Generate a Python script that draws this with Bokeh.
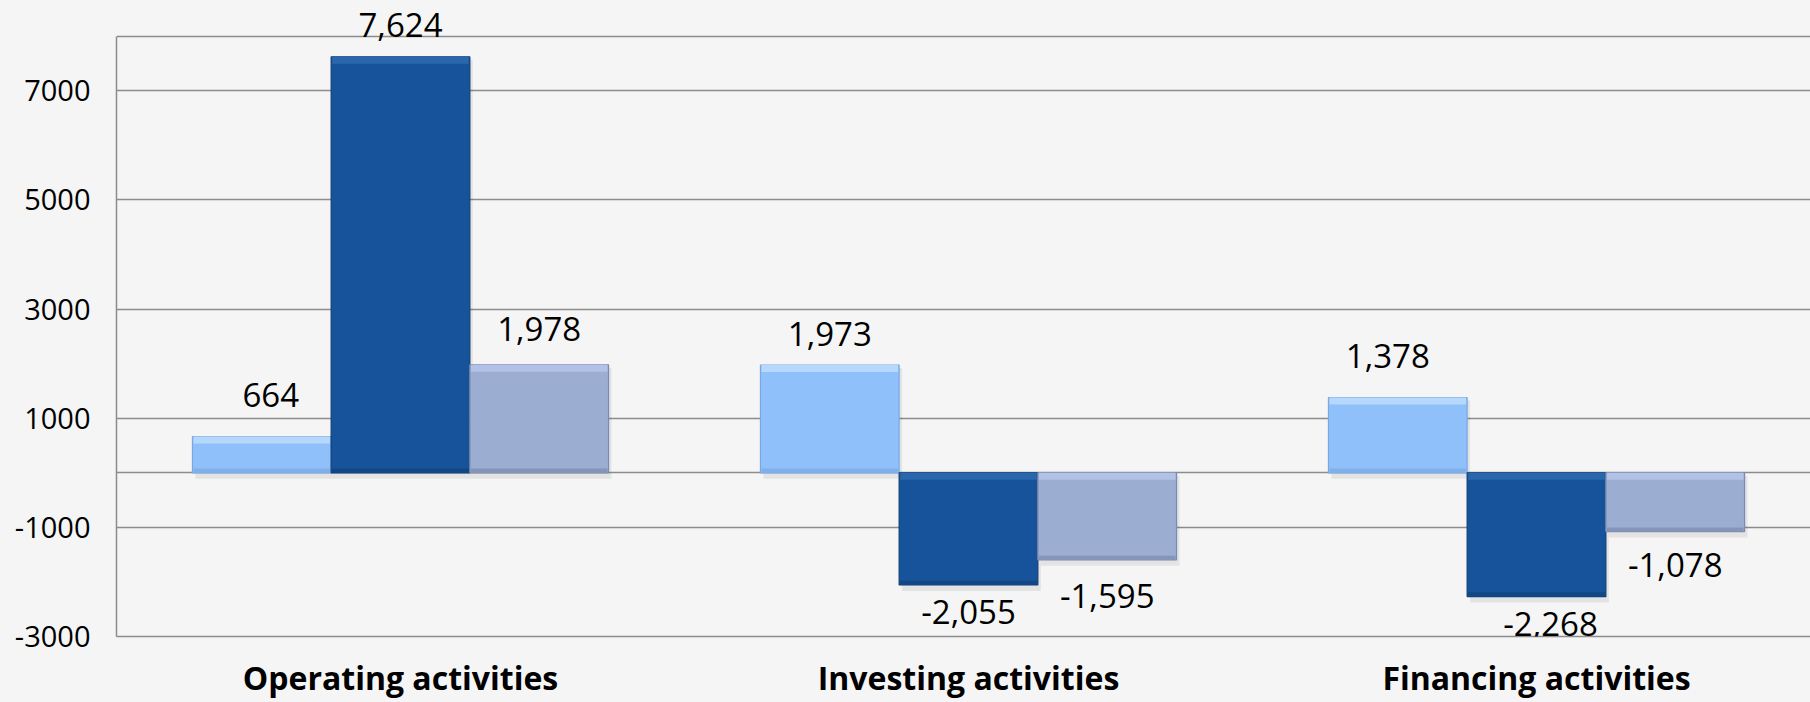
from bokeh.plotting import figure
from bokeh.models import FixedTicker, Range1d, ColumnDataSource, LabelSet
from bokeh.embed import file_html
from bokeh.resources import INLINE
from bokeh.core.properties import value

# ---- data ----
categories = ["Operating activities", "Investing activities", "Financing activities"]
light_values = [664, 1973, 1378]
dark_values = [7624, -2055, -2268]
grey_values = [1978, -1595, -1078]
y_tick_values = [-3000, -1000, 1000, 3000, 5000, 7000]
y_extra_lines = [0, 8000]

# ---- style ----
BG = "#f5f5f5"
GRID = "#8c8c8c"
FONT = "Open Sans"
BAR_W = 0.2442
# label nudges in screen px (dx right, dy up), as placed in the original chart
light_nudge = [(9, 30), (0, 19), (-10, 30)]
dark_nudge = [(0, 20), (0, -39), (14, -39)]
grey_nudge = [(0, 24), (0, -48), (0, -45)]
series = [
    # values, fill, edge, highlight, shade, offset, nudges
    (light_values, "#8fc0fa", "#79a8e2", "#b6d8fd", "#80b0ec", -BAR_W, light_nudge),
    (dark_values, "#17539a", "#0f3f78", "#2a66ac", "#114784", 0.0, dark_nudge),
    (grey_values, "#9cadd2", "#7a8bb0", "#b2c2e6", "#8595b8", BAR_W, grey_nudge),
]

W, H = 1810, 702
MB_LEFT, MB_BOTTOM = 116, 66
frame_h = H - MB_BOTTOM
frame_w = W - MB_LEFT
px_per_1000 = 54.57
Y0 = -3000
Y1 = Y0 + frame_h / px_per_1000 * 1000
units_per_px = 1000 / px_per_1000
cat_per_px = 1.0 / 568.0
BEVEL = 7 * units_per_px

p = figure(width=W, height=H, output_backend="svg", toolbar_location=None,
           x_range=Range1d(0.5, 0.5 + frame_w * cat_per_px),
           y_range=Range1d(Y0, Y1),
           min_border_left=MB_LEFT, min_border_right=0, min_border_top=0,
           min_border_bottom=MB_BOTTOM,
           background_fill_color=BG, border_fill_color=BG, outline_line_color=None)

# grid
p.xgrid.visible = False
p.ygrid.ticker = FixedTicker(ticks=[t for t in y_tick_values if t != Y0] + y_extra_lines)
p.ygrid.grid_line_color = GRID
p.ygrid.grid_line_width = 1.5

# y axis
p.yaxis.ticker = FixedTicker(ticks=y_tick_values)
p.yaxis.major_label_overrides = {t: str(t) for t in y_tick_values}
p.yaxis.bounds = (Y0, 8000)
p.yaxis.axis_line_color = GRID
p.yaxis.axis_line_width = 1.5
p.yaxis.major_tick_out = 0
p.yaxis.major_tick_in = 0
p.yaxis.minor_tick_line_color = None
p.yaxis.major_label_standoff = 26
p.yaxis.major_label_text_font = FONT
p.yaxis.major_label_text_font_size = "29px"
p.yaxis.major_label_text_color = "#000000"

# x axis (categories)
cat_pos = [i + 1 for i in range(len(categories))]
p.xaxis.ticker = FixedTicker(ticks=cat_pos)
p.xaxis.major_label_overrides = {pos: c for pos, c in zip(cat_pos, categories)}
p.xaxis.axis_line_color = GRID
p.xaxis.axis_line_width = 1.5
p.xaxis.major_tick_out = 0
p.xaxis.major_tick_in = 0
p.xaxis.minor_tick_line_color = None
p.xaxis.major_label_standoff = 19
p.xaxis.major_label_text_line_height = 0.8
p.xaxis.major_label_text_font = FONT
p.xaxis.major_label_text_font_size = "32px"
p.xaxis.major_label_text_font_style = "bold"
p.xaxis.major_label_text_color = "#000000"

# bars with a simple bevel + soft shadow look
for vals, fill, edge, hi, sh, off, nudge in series:
    xs = [c + off for c in cat_pos]
    vis_top = [max(0, v) for v in vals]
    vis_bot = [min(0, v) for v in vals]
    # soft shadow
    p.vbar(x=[x + 3 * cat_per_px for x in xs], top=[t - 3 * units_per_px for t in vis_top],
           bottom=[b - 6 * units_per_px for b in vis_bot], width=BAR_W,
           fill_color="#000000", fill_alpha=0.07, line_color=None)
    src = ColumnDataSource(dict(x=xs, top=vals, zero=[0] * len(vals)))
    p.vbar(x="x", top="top", bottom="zero", width=BAR_W, source=src,
           fill_color=fill, line_color=edge, line_width=1.2)
    p.vbar(x=xs, top=vis_top, bottom=[t - BEVEL for t in vis_top], width=BAR_W * 0.985,
           fill_color=hi, line_color=None)
    p.vbar(x=xs, top=[b + BEVEL * 0.6 for b in vis_bot], bottom=vis_bot, width=BAR_W * 0.985,
           fill_color=sh, line_color=None)

    txt = [f"{v:,}" for v in vals]
    lsrc = ColumnDataSource(dict(x=xs, y=vals, text=txt,
                                 xoff=[n[0] for n in nudge], yoff=[n[1] for n in nudge]))
    p.add_layout(LabelSet(x="x", y="y", text="text", source=lsrc,
                          x_offset="xoff", y_offset="yoff",
                          text_align="center", text_baseline="alphabetic",
                          text_font=value(FONT), text_font_size="33px",
                          text_color="#000000"))

html = file_html(p, INLINE)
html = html.replace("<head>",
                    "<head><style>html,body{margin:0;padding:0;overflow:hidden;"
                    "background:#f5f5f5;}</style>", 1)
open("out.html", "w").write(html)
